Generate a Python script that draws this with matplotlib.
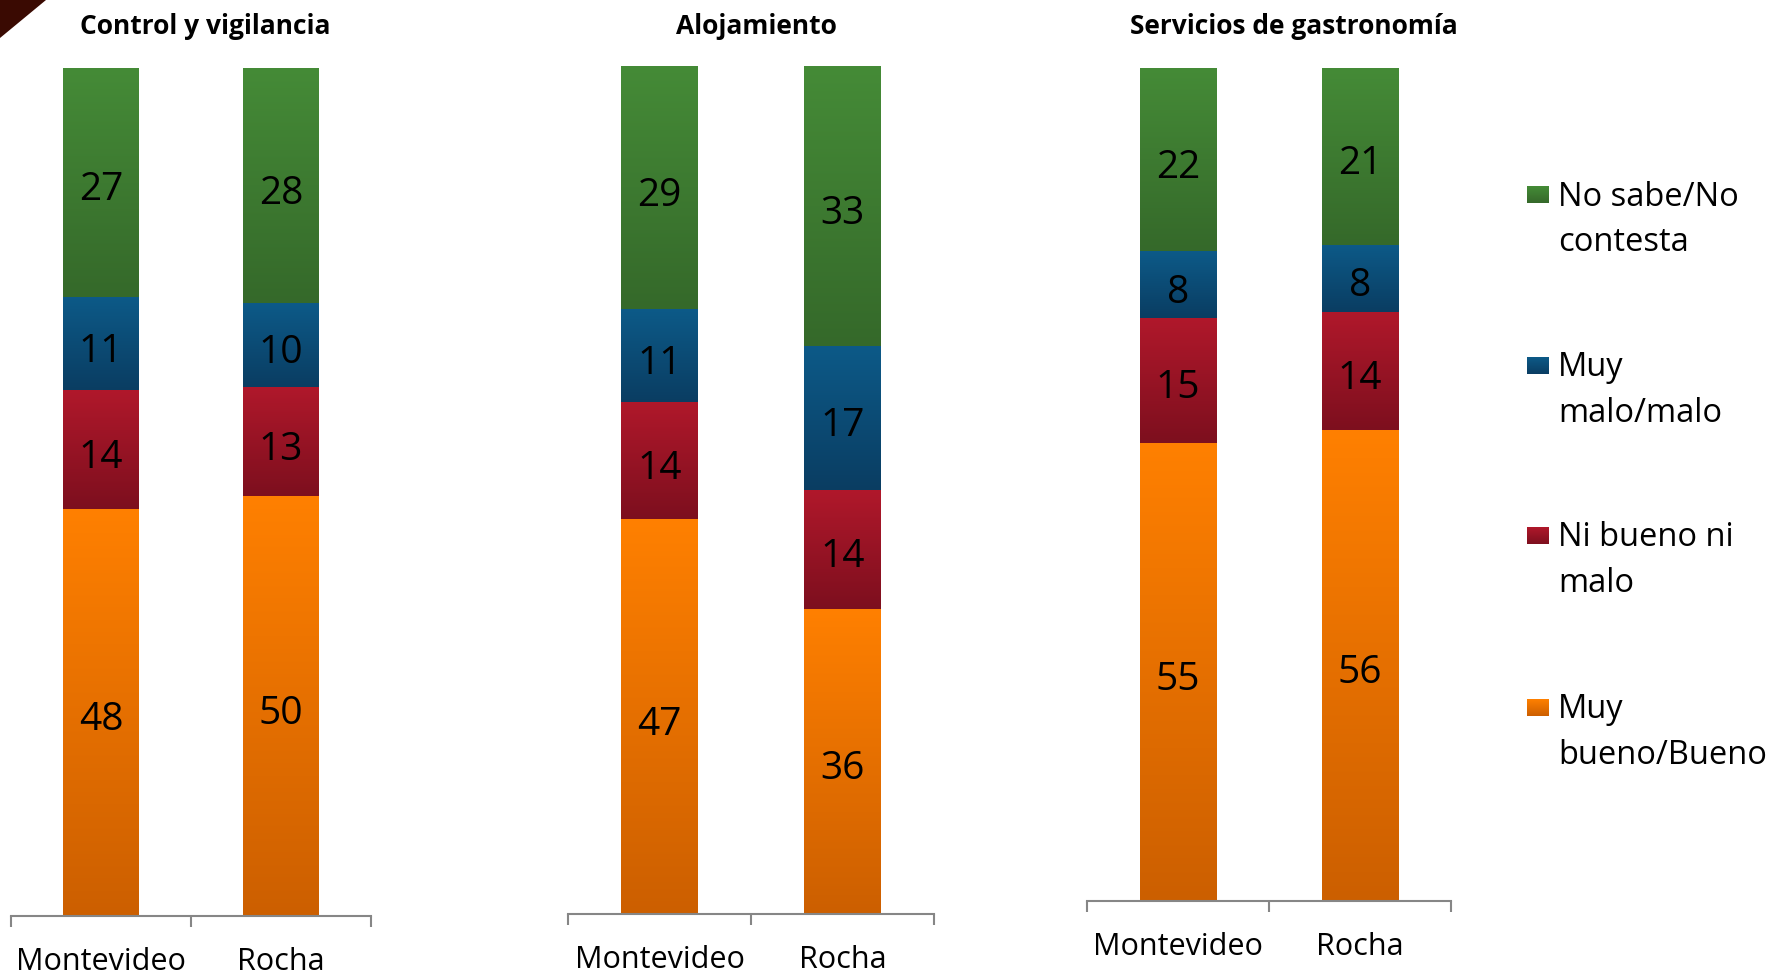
import numpy as np
from matplotlib import pyplot as plt
from matplotlib.colors import LinearSegmentedColormap
from matplotlib.patches import Polygon

panels = ['Control y vigilancia', 'Alojamiento', 'Servicios de gastronomía']
categories = ['Montevideo', 'Rocha']

# stacked from bottom to top
series = ['Muy bueno/Bueno', 'Ni bueno ni malo', 'Muy malo/malo', 'No sabe/No contesta']
legend_labels = ['Muy\nbueno/Bueno', 'Ni bueno ni\nmalo', 'Muy\nmalo/malo', 'No sabe/No\ncontesta']
muy_bueno = [[48, 50], [47, 36], [55, 56]]
ni_bueno_ni_malo = [[14, 13], [14, 14], [15, 14]]
muy_malo = [[11, 10], [11, 17], [8, 8]]
no_sabe = [[27, 28], [29, 33], [22, 21]]

# bottom colour -> top colour of each segment gradient
gradients = [
    ('#CC5F00', '#FF8000'),
    ('#7D0F1E', '#B0182B'),
    ('#0A3D62', '#0D5A88'),
    ('#35692A', '#458B37'),
]

plt.rcParams['font.family'] = ['Open Sans', 'DejaVu Sans']

W, H = 1790, 974
fig = plt.figure(figsize=(W / 100, H / 100), dpi=100)

# axes boxes in pixels: left, right, top, bottom
boxes = [(11, 371, 68, 916), (568, 934, 66, 914), (1087, 1451, 68, 901)]
title_x = [205, 756, 1294]

values = np.array([muy_bueno, ni_bueno_ni_malo, muy_malo, no_sabe], dtype=float)
grad = np.linspace(0, 1, 256).reshape(-1, 1)

for p, name in enumerate(panels):
    l, r, t, b = boxes[p]
    ax = fig.add_axes([l / W, 1 - b / H, (r - l) / W, (b - t) / H])
    vals = values[:, p, :]
    shares = vals / vals.sum(axis=0) * 100
    x = np.arange(len(categories))
    bottom = np.zeros(len(categories))
    for s in range(len(series)):
        bars = ax.bar(x, shares[s], bottom=bottom, width=0.42,
                      color=gradients[s][1], linewidth=0, zorder=1)
        cmap = LinearSegmentedColormap.from_list('g%d' % s, gradients[s])
        for bar, v in zip(bars, vals[s]):
            x0, y0 = bar.get_x(), bar.get_y()
            w, h = bar.get_width(), bar.get_height()
            ax.imshow(grad, extent=[x0, x0 + w, y0, y0 + h], cmap=cmap,
                      origin='lower', aspect='auto', zorder=2)
            ax.annotate('%d' % v, (x0 + w / 2, y0 + h / 2), xytext=(0, -2.5),
                        textcoords='offset points', ha='center',
                        va='center_baseline', fontsize=28, color='black', zorder=3)
        bottom += shares[s]

    ax.set_xlim(-0.5, 1.5)
    ax.set_ylim(0, 100)
    ax.set_xticks(x)
    ax.set_xticklabels(categories, fontsize=22)
    ax.set_xticks([-0.5, 0.5, 1.5], minor=True)
    ax.tick_params(axis='x', which='major', length=0, pad=22.5)
    ax.tick_params(axis='x', which='minor', length=8, width=1.5,
                   color='#868686', direction='out')
    ax.set_yticks([])
    for side in ['left', 'right', 'top']:
        ax.spines[side].set_visible(False)
    ax.spines['bottom'].set_color('#868686')
    ax.spines['bottom'].set_linewidth(1.5)

    fig.text(title_x[p] / W, 1 - 26.5 / H, name, ha='center', va='center',
             fontsize=19, fontweight='bold')

# legend, top entry first
legend_y = [194, 365, 535, 707]
for k, s in enumerate(reversed(range(len(series)))):
    yc = legend_y[k]
    hax = fig.add_axes([1527 / W, 1 - (yc + 9) / H, 22 / W, 17 / H])
    hax.imshow(grad, cmap=LinearSegmentedColormap.from_list('l%d' % s, gradients[s]),
               origin='lower', aspect='auto')
    hax.set_axis_off()
    fig.text(1558 / W, 1 - (yc - 13.5) / H, legend_labels[s], ha='left', va='top',
             fontsize=23.5, linespacing=1.5)

# corner decoration from the slide
fig.patches.append(Polygon([[0, 1], [46 / W, 1], [0, 1 - 38 / H]], closed=True,
                           transform=fig.transFigure, facecolor='#3A0A02',
                           edgecolor='none'))

fig.savefig('out.png', dpi=100)
